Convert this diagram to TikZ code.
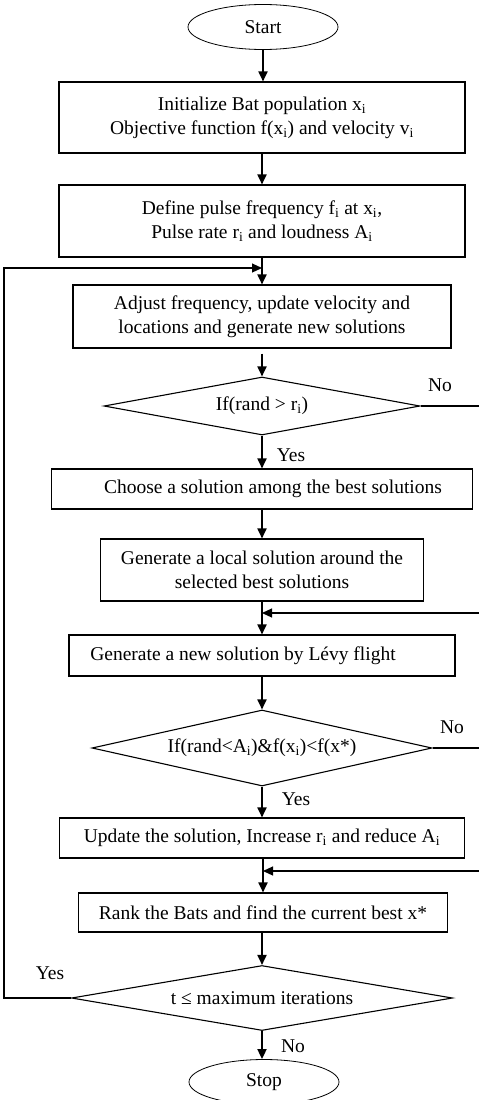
\documentclass[tikz,border=0pt]{standalone}
\usepackage{fontspec}
\setmainfont{Liberation Serif}
\usetikzlibrary{shapes.geometric,arrows.meta}
\newcommand{\sbi}{\textsubscript{i}}
\begin{document}
\begin{tikzpicture}[x=1pt,y=-1pt,
  txt/.style={font=\fontsize{19.5}{24}\selectfont},
  box/.style={txt,draw,line width=1.1pt,inner sep=0pt,align=center,rectangle},
  term/.style={txt,draw,line width=0.8pt,ellipse,inner sep=0pt,minimum width=150pt,minimum height=45pt},
  dec/.style={txt,draw,line width=1.1pt,diamond,inner sep=0pt},
  arr/.style={line width=1.8pt,-{Triangle[length=10pt,width=9pt]}},
  back/.style={line width=1.1pt,-{Triangle[length=10pt,width=9pt]}},
  plain/.style={line width=1.1pt},
  lbl/.style={txt}
]
\useasboundingbox (0,0) rectangle (479,1100);
\node[term] (start) at (263,27) {Start};
\node[box,minimum width=406pt,minimum height=71pt] (b1) at (262,117.5) {Initialize Bat population x\sbi\\Objective function f(x\sbi) and velocity v\sbi};
\node[box,minimum width=406pt,minimum height=72pt] (b2) at (262,221) {Define pulse frequency f\sbi{} at x\sbi,\\Pulse rate r\sbi{} and loudness A\sbi};
\node[box,minimum width=378pt,minimum height=63pt] (b3) at (262,316.5) {Adjust frequency, update velocity and\\locations and generate new solutions};
\node[dec,aspect=5.45,minimum width=316pt,minimum height=58pt] (d1) at (262,406) {If(rand > r\sbi)};
\node[box,minimum width=421pt,minimum height=40pt] (b4) at (262,489) {\hspace*{22pt}Choose a solution among the best solutions};
\node[box,minimum width=386pt,minimum height=41pt] (b6) at (262,655.5) {Generate a new solution by Lévy flight\hspace*{38pt}};
\node[box,minimum width=323pt,minimum height=62pt] (b5) at (262,570) {Generate a local solution around the\\selected best solutions};
\node[dec,aspect=4.47,minimum width=340pt,minimum height=76pt] (d2) at (262,748) {If(rand<A\sbi)\&f(x\sbi)<f(x*)};
\node[box,minimum width=405pt,minimum height=40pt] (b7) at (262,838) {Update the solution, Increase r\sbi{} and reduce A\sbi};
\node[box,minimum width=369pt,minimum height=39pt] (b8) at (263,912.5) {Rank the Bats and find the current best x*};
\node[dec,aspect=5.86,minimum width=381pt,minimum height=65pt] (d3) at (262,998) {t ≤ maximum iterations};
\node[term] (stop) at (264,1082) {Stop};

\coordinate (j1) at (262,268);
\coordinate (j2) at (262,613);
\coordinate (j3) at (263,871);

\draw[arr] (start.south) -- (start.south|-b1.north);
\draw[arr] (b1) -- (b2);
\draw[arr] (b2) -- (b3);
\draw[arr,shorten <=5pt] (b3) -- (d1);
\draw[arr] (d1) -- (b4);
\draw[arr] (b4) -- (b5);
\draw[arr] (b5) -- (b6);
\draw[arr] (b6) -- (d2);
\draw[arr] (d2) -- (b7);
\draw[arr] (b7.south-|j3) -- (b8.north-|j3);
\draw[arr] (b8.south-|d3.north) -- (d3.north);
\draw[arr] (d3.south) -- (d3.south|-stop.north);

\draw[back] (d3.west) -- ++(-67,0) |- (j1);
\draw[back] (d1.east) -- ++(63,0) |- (j2);
\draw[back] (d2.east) -- ++(51,0) |- (j3);

\node[lbl] (no1) at (440,385) {No};
\node[lbl] (yes1) at (291,455) {Yes};
\node[lbl] (no2) at (452,727) {No};
\node[lbl] (yes2) at (296,799) {Yes};
\node[lbl] (yes3) at (50,973) {Yes};
\node[lbl] (no3) at (293,1046) {No};
\end{tikzpicture}
\end{document}
